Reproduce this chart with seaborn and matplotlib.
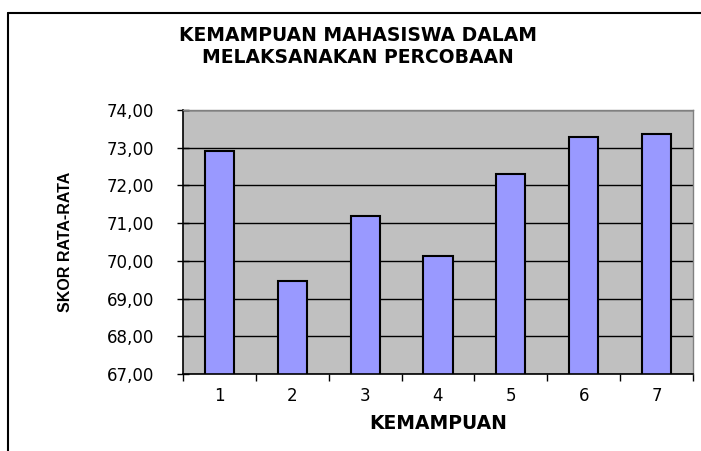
import matplotlib
matplotlib.use('Agg')
import matplotlib.pyplot as plt
from matplotlib.ticker import FuncFormatter, MultipleLocator
from matplotlib.lines import Line2D
import seaborn as sns
import numpy as np
import pandas as pd

# data
kemampuan = ['1', '2', '3', '4', '5', '6', '7']
skor = [72.92, 69.46, 71.19, 70.13, 72.30, 73.29, 73.37]

df = pd.DataFrame({'kemampuan': kemampuan, 'skor': skor})

sns.set_theme(style="white")
plt.rcParams['font.family'] = ['DejaVu Sans']

fig = plt.figure(figsize=(7.01, 4.51), dpi=100)
ax = fig.add_axes([0.261, 0.1707, 0.7276, 0.5853])

ax.set_facecolor('#C0C0C0')
ax.set_axisbelow(True)
ax.yaxis.grid(True, color='black', linewidth=1)
ax.xaxis.grid(False)

sns.barplot(data=df, x='kemampuan', y='skor', color='#9999FF', width=0.4,
            edgecolor='black', linewidth=1.5, saturation=1, ax=ax)

ax.set_ylim(67, 74)
ax.set_xlim(-0.5, len(kemampuan) - 0.5)
ax.yaxis.set_major_locator(MultipleLocator(1))
ax.yaxis.set_major_formatter(FuncFormatter(lambda v, p: f"{v:.2f}".replace('.', ',')))

# x ticks sit between categories, labels centred under bars
ax.set_xticks(np.arange(len(kemampuan) + 1) - 0.5, minor=True)
ax.tick_params(axis='x', which='major', length=0, pad=9, labelsize=12, labelcolor='black')
ax.tick_params(axis='x', which='minor', length=5, width=1, direction='out', color='black', bottom=True)
ax.tick_params(axis='y', which='major', length=9, width=1, direction='inout', color='black',
               left=True, pad=16, labelsize=12, labelcolor='black')

for side in ['left', 'bottom']:
    ax.spines[side].set_color('black')
    ax.spines[side].set_linewidth(1.2)
for side in ['top', 'right']:
    ax.spines[side].set_color('#808080')
    ax.spines[side].set_linewidth(1)
    ax.spines[side].set_visible(True)

ax.set_xlabel('KEMAMPUAN', fontsize=13.5, fontweight='bold', color='black', labelpad=7)
ax.set_ylabel('SKOR RATA-RATA', fontsize=11.5, fontweight='bold', color='black',
              family=['Liberation Sans', 'DejaVu Sans'])
ax.yaxis.set_label_coords(-0.215, 0.5)

fig.text(0.511, 0.897, 'KEMAMPUAN MAHASISWA DALAM\nMELAKSANAKAN PERCOBAAN',
         ha='center', va='center', fontsize=13.5, fontweight='bold', color='black', linespacing=1.25)

# outer frame lines (left and top) like the original
fig.add_artist(Line2D([8 / 701, 8 / 701], [0, 1 - 13 / 451], transform=fig.transFigure,
                      color='black', linewidth=1.5))
fig.add_artist(Line2D([8 / 701, 1], [1 - 13 / 451, 1 - 13 / 451], transform=fig.transFigure,
                      color='black', linewidth=1.5))

fig.savefig('out.png', dpi=100, facecolor='white')
